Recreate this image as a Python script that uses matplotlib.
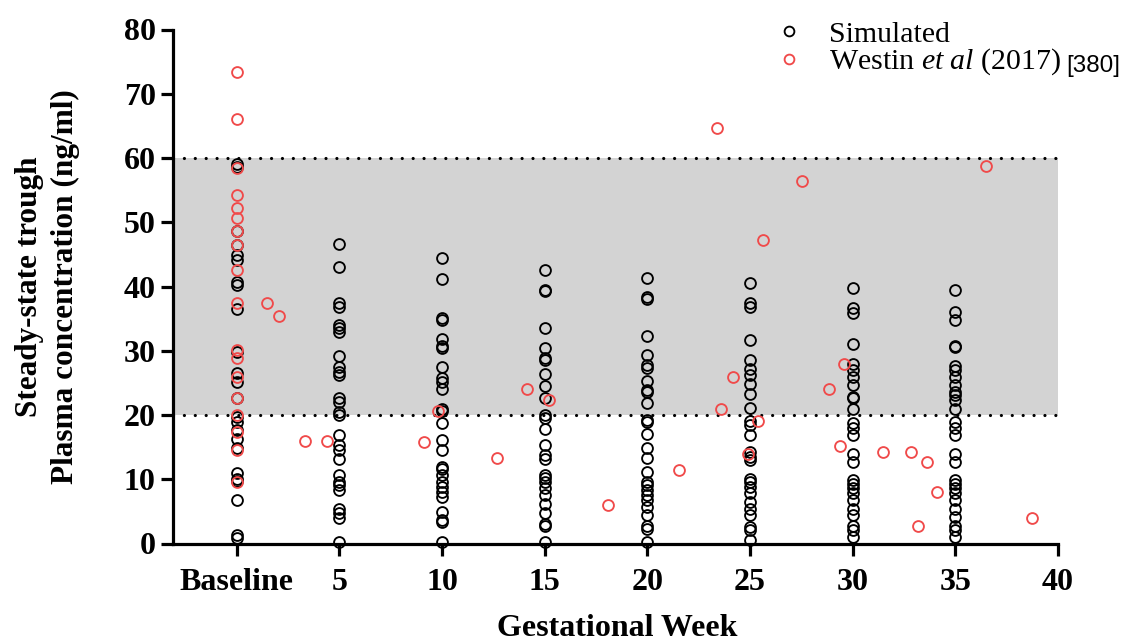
import matplotlib
matplotlib.use("Agg")
import matplotlib.pyplot as plt
import numpy as np

# Simulated steady-state trough concentrations (ng/ml) per gestational week
sim_weeks = [0, 5, 10, 15, 20, 25, 30, 35]
sim_baseline = [59.1, 58.6, 48.6, 46.4, 44.9, 44.1, 40.7, 40.2, 36.5, 29.8, 26.5,
                25.2, 22.7, 19.7, 18.9, 17.6, 16.3, 14.8, 10.9, 10.1, 9.7, 6.7, 1.3, 0.8]
sim_wk5 = [46.6, 43.1, 37.4, 36.8, 34.0, 33.5, 32.9, 29.2, 27.5, 26.7, 26.2, 22.6,
           22.1, 20.5, 20.0, 16.9, 15.3, 14.5, 13.2, 10.6, 9.6, 9.1, 8.3, 5.4, 4.7, 3.9, 0.3]
sim_wk10 = [44.4, 41.1, 35.1, 34.8, 31.9, 30.7, 30.5, 27.5, 25.7, 25.2, 24.1, 21.0,
            20.6, 18.7, 16.1, 14.6, 11.9, 11.6, 10.6, 9.6, 8.8, 8.0, 7.3, 4.9, 3.6, 3.4, 0.3]
sim_wk15 = [42.5, 39.5, 39.3, 33.5, 30.5, 28.9, 28.5, 26.4, 24.5, 22.6, 20.0, 19.5,
            17.8, 15.3, 13.7, 13.2, 10.6, 10.2, 9.6, 8.6, 7.5, 6.2, 4.7, 3.1, 2.8, 0.3]
sim_wk20 = [41.4, 38.4, 38.0, 32.3, 29.3, 27.8, 27.3, 25.3, 23.9, 23.6, 21.8, 19.2,
            18.9, 17.1, 14.8, 13.3, 11.2, 9.6, 9.1, 8.3, 7.5, 6.7, 5.7, 4.4, 2.8, 2.3, 0.3]
sim_wk25 = [40.5, 37.4, 36.8, 31.6, 28.6, 27.2, 26.3, 24.9, 23.3, 21.1, 19.0, 18.4,
            16.9, 14.3, 13.5, 13.0, 10.1, 9.6, 8.8, 7.8, 6.5, 5.4, 4.4, 2.6, 2.1, 0.5]
sim_wk30 = [39.8, 36.6, 35.8, 31.0, 28.0, 27.0, 25.9, 24.6, 22.8, 22.6, 20.9, 18.7,
            17.9, 16.9, 14.0, 12.7, 9.9, 9.3, 8.6, 7.8, 6.7, 5.4, 4.4, 2.8, 2.1, 1.0]
sim_wk35 = [39.4, 36.1, 34.8, 30.8, 30.6, 27.7, 27.0, 25.9, 24.6, 23.6, 23.1, 22.3,
            21.0, 18.9, 17.9, 16.9, 14.0, 12.7, 9.9, 9.3, 8.6, 7.8, 6.7, 5.4, 4.2, 2.8, 2.1, 1.0]
sim_columns = [sim_baseline, sim_wk5, sim_wk10, sim_wk15,
               sim_wk20, sim_wk25, sim_wk30, sim_wk35]

# Observed concentrations, Westin et al (2017)
westin_week = [0] * 18 + [1.46, 2.04, 3.35, 4.4, 9.13, 9.82, 12.7, 14.14, 15.19,
                          18.07, 21.55, 23.41, 23.59, 24.17, 24.92, 25.37, 25.65,
                          27.51, 28.83, 29.4, 29.58, 31.47, 32.82, 33.16, 33.61,
                          34.13, 36.49, 38.74]
westin_conc = [73.4, 66.1, 58.5, 54.3, 52.2, 50.6, 48.6, 46.4, 42.5, 37.4, 30.1,
               28.8, 25.9, 22.6, 20.0, 17.4, 14.5, 9.6,
               37.5, 35.4, 15.9, 15.9, 15.8, 20.6, 13.3, 24.1, 22.4,
               6.0, 11.5, 64.6, 21.0, 25.9, 13.9, 19.1, 47.2,
               56.4, 24.1, 15.1, 28.0, 14.3, 14.2, 2.8, 12.7,
               8.0, 58.8, 4.0]

# Therapeutic reference range
range_low, range_high = 20, 60

x_ticks = [0, 5, 10, 15, 20, 25, 30, 35, 40]
x_tick_labels = ["Baseline", "5", "10", "15", "20", "25", "30", "35", "40"]
y_ticks = [0, 10, 20, 30, 40, 50, 60, 70, 80]

plt.rcParams["mathtext.fontset"] = "custom"
plt.rcParams["mathtext.rm"] = "Liberation Serif"
plt.rcParams["mathtext.it"] = "Liberation Serif:italic"

W, H = 1128, 643
fig = plt.figure(figsize=(W / 100, H / 100), dpi=100)
ax_w = 1058 - 173
ax = fig.add_axes([173 / W, 1 - 543.5 / H, ax_w / W, (543.5 - 29.5) / H])

sim_color = "black"
obs_color = "#f04a4a"

ax.axhspan(range_low, range_high, color="#d3d3d3", zorder=0, lw=0)
for lvl in (range_low, range_high):
    ax.axhline(lvl, color="black", lw=2.3, linestyle=(0, (0.01, 3.4)),
               dash_capstyle="round", zorder=1)

sim_x = np.concatenate([[w] * len(c) for w, c in zip(sim_weeks, sim_columns)])
sim_y = np.concatenate(sim_columns)
ax.plot(sim_x, sim_y, linestyle="none", marker="o", ms=7.8, mfc="none",
        mec=sim_color, mew=1.35, label="Simulated", zorder=3, clip_on=False)
ax.plot(westin_week, westin_conc, linestyle="none", marker="o", ms=7.8, mfc="none",
        mec=obs_color, mew=1.35, label=r"Westin $\mathit{et\ al}$ (2017)",
        zorder=4, clip_on=False)

ax.set_xlim(-3.1, 40)
ax.set_ylim(0, 80)
ax.set_xticks(x_ticks)
ax.set_xticklabels(x_tick_labels)
ax.set_yticks(y_ticks)

for side in ("top", "right"):
    ax.spines[side].set_visible(False)
for side in ("left", "bottom"):
    ax.spines[side].set_linewidth(2.3)
    ax.spines[side].set_capstyle("projecting")

ax.tick_params(axis="both", direction="out", length=8.5, width=2.3, color="black")
ax.tick_params(axis="x", pad=9)
ax.tick_params(axis="y", pad=4)
for lab in ax.get_xticklabels() + ax.get_yticklabels():
    lab.set_fontfamily("Liberation Serif")
    lab.set_fontweight("bold")
    lab.set_fontsize(23)

ax.set_ylabel("Steady-state trough\nPlasma concentration (ng/ml)",
              fontfamily="Liberation Serif", fontweight="bold", fontsize=22.5,
              linespacing=1.3)
ax.yaxis.set_label_coords((80 - 173) / ax_w, 0.5)
fig.text(617 / W, 1 - 636 / H, "Gestational Week", ha="center", va="baseline",
         fontfamily="Liberation Serif", fontweight="bold", fontsize=23)

leg = ax.legend(loc="upper left", bbox_to_anchor=(774 / W, 1 - 21 / H),
                bbox_transform=fig.transFigure, frameon=False,
                prop={"family": "Liberation Serif", "size": 21.5},
                handlelength=1.0, handletextpad=0.85, labelspacing=-0.04,
                borderpad=0, borderaxespad=0, markerscale=0.9)

# Citation tag set just after the second legend entry
fig.canvas.draw()
bb = leg.get_texts()[1].get_window_extent()
fig.text((bb.x1 + 5) / W, bb.y0 / H, "[380]", ha="left", va="bottom",
         fontfamily="Liberation Sans", fontsize=17.5)

fig.savefig("out.png", dpi=100)
